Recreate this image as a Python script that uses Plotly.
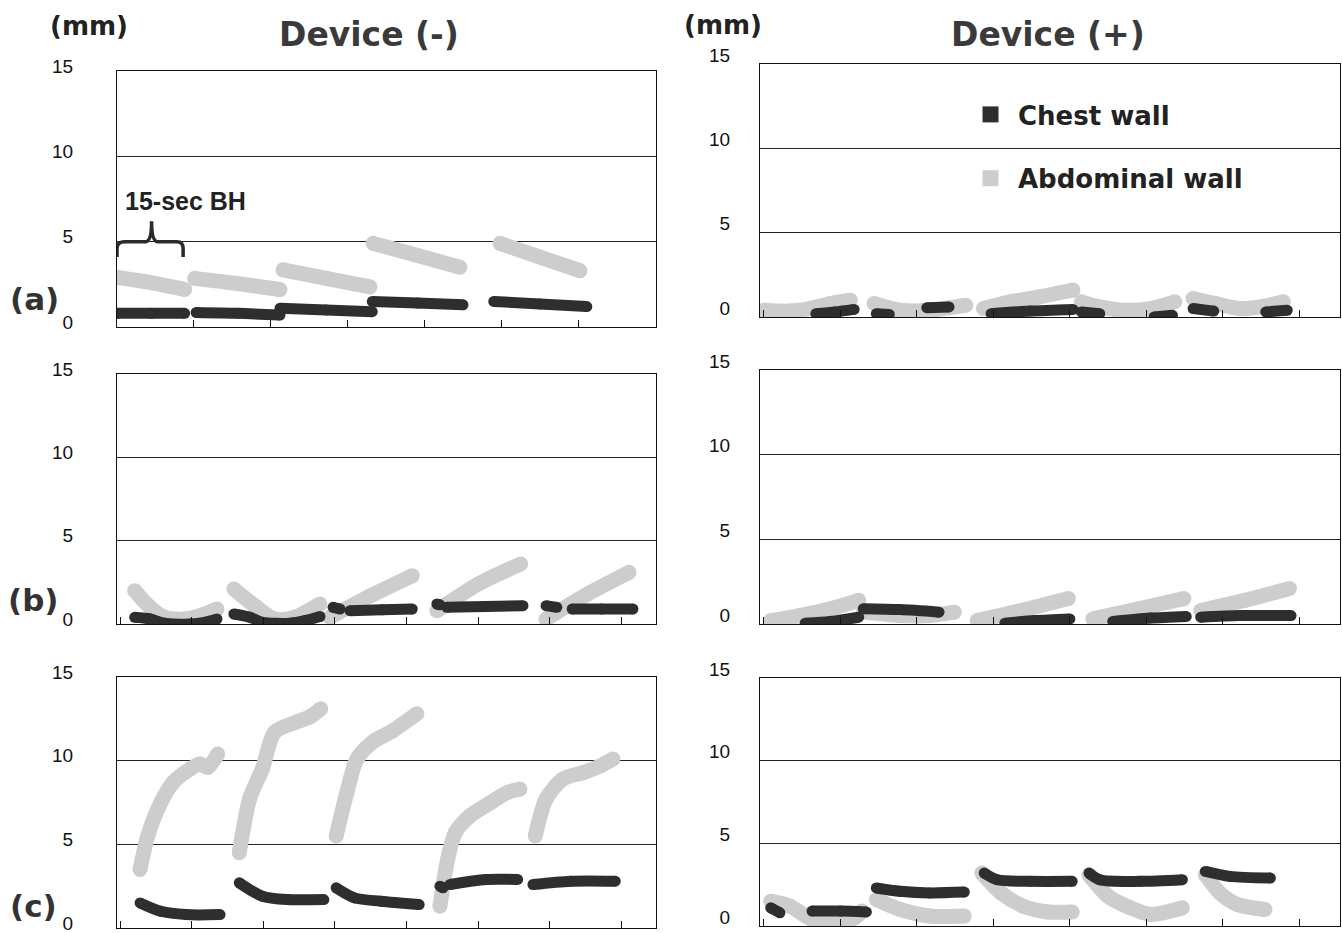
import plotly.graph_objects as go

# ---------------- data (mm), x in breath-hold time units ----------------
# Row (a) Device (-)
A_L_CHEST_X = [[0.0, 0.44, 0.88], [1.03, 1.57, 2.12], [2.12, 2.72, 3.32], [3.32, 3.91, 4.50], [4.90, 5.50, 6.11]]
A_L_CHEST_Y = [[0.8, 0.8, 0.8], [0.85, 0.8, 0.7], [1.1, 1.0, 0.9], [1.5, 1.4, 1.3], [1.5, 1.35, 1.2]]
A_L_ABD_X = [[0.0, 0.44, 0.88], [1.01, 1.56, 2.12], [2.16, 2.72, 3.29], [3.33, 3.90, 4.46], [4.98, 5.50, 6.02]]
A_L_ABD_Y = [[2.9, 2.6, 2.2], [2.85, 2.55, 2.2], [3.35, 2.85, 2.35], [4.9, 4.2, 3.5], [4.9, 4.1, 3.3]]

# Row (b) Device (-)
B_L_CHEST_X = [[0.23, 0.43, 0.62, 0.95, 1.14, 1.30], [1.52, 1.73, 1.89, 2.25, 2.44, 2.64], [2.81, 2.90],
               [3.03, 3.45, 3.84], [4.16, 4.20], [4.29, 4.80, 5.28], [5.58, 5.72], [5.92, 6.30, 6.71]]
B_L_CHEST_Y = [[0.4, 0.3, 0.05, 0.0, 0.1, 0.3], [0.6, 0.4, 0.1, 0.05, 0.2, 0.45], [1.0, 0.9],
               [0.8, 0.85, 0.9], [1.2, 1.15], [1.0, 1.05, 1.1], [1.1, 1.0], [0.9, 0.9, 0.9]]
B_L_ABD_X = [[0.23, 0.43, 0.62, 0.88, 1.08, 1.30], [1.52, 1.79, 2.05, 2.31, 2.64], [2.77, 3.30, 3.84],
             [4.16, 4.70, 5.25], [5.58, 6.12, 6.66]]
B_L_ABD_Y = [[2.0, 1.0, 0.4, 0.3, 0.5, 0.9], [2.1, 1.1, 0.3, 0.4, 1.2], [0.4, 1.7, 2.9],
             [0.8, 2.4, 3.6], [0.3, 1.8, 3.1]]

# Row (c) Device (-)
C_L_CHEST_X = [[0.30, 0.57, 0.90, 1.34], [1.59, 1.89, 2.22, 2.69], [2.85, 3.09, 3.43, 3.93], [4.20, 4.24],
               [4.33, 4.80, 5.21], [5.41, 5.90, 6.48]]
C_L_CHEST_Y = [[1.5, 1.0, 0.8, 0.8], [2.7, 1.9, 1.7, 1.7], [2.4, 1.8, 1.6, 1.4], [2.5, 2.4],
               [2.6, 2.9, 2.9], [2.6, 2.8, 2.8]]
C_L_ABD_X = [[0.30, 0.40, 0.57, 0.73, 0.95, 1.08, 1.18, 1.31], [1.59, 1.73, 1.89, 2.05, 2.33, 2.50, 2.65],
             [2.85, 2.99, 3.12, 3.32, 3.59, 3.90], [4.20, 4.30, 4.40, 4.59, 4.86, 5.08, 5.24],
             [5.44, 5.58, 5.80, 6.07, 6.29, 6.45]]
C_L_ABD_Y = [[3.5, 5.5, 7.5, 8.7, 9.5, 9.8, 9.6, 10.4], [4.5, 7.8, 9.5, 11.7, 12.3, 12.6, 13.1],
             [5.5, 8.1, 10.1, 11.1, 11.8, 12.8], [1.3, 4.1, 5.7, 6.7, 7.5, 8.1, 8.3],
             [5.5, 7.7, 8.9, 9.3, 9.7, 10.1]]

# Row (a) Device (+)
A_R_CHEST_X = [[0.73, 0.98, 1.23], [1.52, 1.69], [2.18, 2.47], [3.02, 3.53, 4.09], [4.20, 4.44],
               [5.15, 5.39], [5.66, 5.93], [6.61, 6.89]]
A_R_CHEST_Y = [[0.2, 0.3, 0.45], [0.2, 0.15], [0.55, 0.6], [0.2, 0.35, 0.45], [0.3, 0.2],
               [0.0, 0.1], [0.5, 0.35], [0.3, 0.4]]
A_R_ABD_X = [[0.05, 0.39, 0.65, 0.92, 1.18], [1.49, 1.83, 2.22, 2.69], [2.92, 3.27, 3.66, 4.09],
             [4.20, 4.44, 4.77, 5.10, 5.42], [5.66, 5.95, 6.27, 6.54, 6.84]]
A_R_ABD_Y = [[0.4, 0.35, 0.5, 0.8, 1.0], [0.8, 0.4, 0.4, 0.7], [0.5, 0.9, 1.2, 1.6],
             [0.9, 0.6, 0.4, 0.5, 0.9], [1.1, 0.8, 0.5, 0.6, 0.9]]

# Row (b) Device (+)
B_R_CHEST_X = [[0.59, 0.92, 1.29], [1.35, 1.83, 2.34], [3.20, 3.59, 4.05], [4.61, 5.10, 5.57], [5.76, 6.27, 6.94]]
B_R_CHEST_Y = [[0.05, 0.15, 0.4], [0.9, 0.85, 0.7], [0.05, 0.2, 0.3], [0.15, 0.35, 0.45], [0.4, 0.5, 0.5]]
B_R_ABD_X = [[0.14, 0.52, 0.92, 1.29], [1.35, 1.83, 2.22, 2.54], [2.84, 3.42, 4.03], [4.35, 4.95, 5.54],
             [5.76, 6.34, 6.92]]
B_R_ABD_Y = [[0.2, 0.5, 0.9, 1.4], [0.7, 0.5, 0.5, 0.7], [0.2, 0.8, 1.5], [0.3, 0.9, 1.5], [0.8, 1.4, 2.1]]

# Row (c) Device (+)
C_R_CHEST_X = [[0.14, 0.26], [0.68, 1.05, 1.39], [1.52, 1.83, 2.22, 2.67], [2.93, 3.10, 3.53, 4.08],
               [4.30, 4.44, 4.97, 5.52], [5.82, 6.14, 6.67]]
C_R_CHEST_Y = [[1.1, 0.8], [0.9, 0.9, 0.85], [2.3, 2.1, 2.0, 2.05], [3.2, 2.8, 2.7, 2.7],
               [3.2, 2.8, 2.7, 2.8], [3.3, 3.0, 2.9]]
C_R_ABD_X = [[0.14, 0.39, 0.68, 0.98, 1.24, 1.33], [1.52, 1.83, 2.22, 2.67], [2.90, 3.15, 3.44, 3.76, 4.08],
             [4.30, 4.55, 4.84, 5.11, 5.52], [5.82, 6.01, 6.24, 6.60]]
C_R_ABD_Y = [[1.5, 1.2, 0.4, 0.3, 0.5, 0.9], [1.6, 1.0, 0.6, 0.6], [3.2, 2.0, 1.2, 0.85, 0.85],
             [3.1, 1.8, 1.1, 0.7, 1.1], [3.1, 2.0, 1.3, 1.0]]

Y_TICKS = [0, 5, 10, 15]
Y_TICK_TEXT = ["0", "5", "10", "15"]
SERIES_NAMES = ["Chest wall", "Abdominal wall"]
ROW_LABELS = ["(a)", "(b)", "(c)"]
COL_TITLES = ["Device (-)", "Device (+)"]

# ---------------- layout helpers ----------------
W, H = 1342, 933
CHEST_COLOR = "#2e2e2e"
ABD_COLOR = "#cdcdcd"


def fx(px):
    return px / W


def fy(py):
    return 1 - py / H


def join(xs, ys):
    X, Y = [], []
    for sx, sy in zip(xs, ys):
        X += list(sx) + [None]
        Y += list(sy) + [None]
    return X, Y


# panel: (axis index, x-pixel box, y-pixel box, x max, tick0, dtick, data, left column?)
panels = [
    (1, (117, 656), (71, 327), 7.01, 0.0, 1.0, (A_L_CHEST_X, A_L_CHEST_Y, A_L_ABD_X, A_L_ABD_Y), True),
    (2, (760, 1340), (64, 317), 7.58, 0.05, 1.0, (A_R_CHEST_X, A_R_CHEST_Y, A_R_ABD_X, A_R_ABD_Y), False),
    (3, (117, 656), (374, 624), 7.01, 0.045, 0.93, (B_L_CHEST_X, B_L_CHEST_Y, B_L_ABD_X, B_L_ABD_Y), True),
    (4, (760, 1340), (370, 624), 7.58, 0.05, 1.0, (B_R_CHEST_X, B_R_CHEST_Y, B_R_ABD_X, B_R_ABD_Y), False),
    (5, (117, 656), (677, 928), 7.01, 0.045, 0.93, (C_L_CHEST_X, C_L_CHEST_Y, C_L_ABD_X, C_L_ABD_Y), True),
    (6, (760, 1340), (678, 926), 7.58, 0.05, 1.0, (C_R_CHEST_X, C_R_CHEST_Y, C_R_ABD_X, C_R_ABD_Y), False),
]

fig = go.Figure()
layout = {}
tick_font = dict(family="Liberation Sans, Arial, sans-serif", size=19, color="#111")

for p in panels:
    idx, xb, yb, xmax, t0, dt, data, left = p
    xa = "xaxis" if idx == 1 else f"xaxis{idx}"
    ya = "yaxis" if idx == 1 else f"yaxis{idx}"
    xr = "x" if idx == 1 else f"x{idx}"
    yr = "y" if idx == 1 else f"y{idx}"
    layout[xa] = dict(
        domain=[fx(xb[0]), fx(xb[1])], anchor=yr, range=[0, xmax], automargin=False,
        showgrid=False, zeroline=False, showline=True, mirror=True,
        linecolor="#111", linewidth=1, ticks="inside", ticklen=7, tickwidth=1,
        tickcolor="#111", tick0=t0, dtick=dt, showticklabels=False, fixedrange=True,
    )
    layout[ya] = dict(
        domain=[fy(yb[1]), fy(yb[0])], anchor=xr, range=[0, 15], automargin=False,
        tickvals=Y_TICKS, ticktext=Y_TICK_TEXT, ticks="", ticklabeloverflow="allow",
        showgrid=True, gridcolor="#222", gridwidth=1, zeroline=False,
        showline=True, mirror=True, linecolor="#111", linewidth=1,
        tickfont=tick_font, ticklabelstandoff=(39 if left else 25),
        ticklabelshift=(-5 if left else -9), fixedrange=True,
    )
    cx, cy, ax_, ay_ = data
    X, Y = join(ax_, ay_)
    fig.add_trace(go.Scatter(
        x=X, y=Y, mode="lines+markers", xaxis=xr, yaxis=yr, showlegend=False,
        name=SERIES_NAMES[1], connectgaps=False, cliponaxis=True,
        line=dict(color=ABD_COLOR, width=15, shape="spline", smoothing=0.8),
        marker=dict(color=ABD_COLOR, size=15), hoverinfo="skip"))
    X, Y = join(cx, cy)
    fig.add_trace(go.Scatter(
        x=X, y=Y, mode="lines+markers", xaxis=xr, yaxis=yr, showlegend=False,
        name=SERIES_NAMES[0], connectgaps=False, cliponaxis=True,
        line=dict(color=CHEST_COLOR, width=11, shape="spline", smoothing=0.8),
        marker=dict(color=CHEST_COLOR, size=11), hoverinfo="skip"))

# legend entries
for name, color, grp in [(SERIES_NAMES[0], CHEST_COLOR, "chest"), (SERIES_NAMES[1], ABD_COLOR, "abd")]:
    fig.add_trace(go.Scatter(
        x=[None], y=[None], mode="markers", xaxis="x2", yaxis="y2", name=name,
        legendgroup=grp, marker=dict(symbol="square", size=22, color=color)))

bold = dict(family="DejaVu Sans, Arial, sans-serif", color="#333", weight="bold")
annotations = [
    dict(text="(mm)", x=fx(89), y=fy(26), font=dict(bold, size=26, color="#222")),
    dict(text="(mm)", x=fx(723), y=fy(25), font=dict(bold, size=26, color="#222")),
    dict(text=COL_TITLES[0], x=fx(369), y=fy(35), font=dict(bold, size=33, color="#3a3a3a")),
    dict(text=COL_TITLES[1], x=fx(1048), y=fy(35), font=dict(bold, size=33, color="#3a3a3a")),
    dict(text=ROW_LABELS[0], x=fx(34), y=fy(299), font=dict(bold, size=31, color="#333")),
    dict(text=ROW_LABELS[1], x=fx(33), y=fy(600), font=dict(bold, size=31, color="#333")),
    dict(text=ROW_LABELS[2], x=fx(33), y=fy(906), font=dict(bold, size=31, color="#333")),
    dict(text="15-sec BH", x=fx(123), y=fy(201), xanchor="left",
         font=dict(family="Liberation Sans, Arial, sans-serif", size=25, color="#222", weight="bold")),
]
for a in annotations:
    a.setdefault("xanchor", "center")
    a.update(xref="paper", yref="paper", yanchor="middle", showarrow=False)

# curly bracket marking one 15-sec breath hold (row a, Device -)
bracket = ("M 0.0,4.1 L 0.0,4.6 Q 0.0,5.0 0.1,5.0 L 0.37,5.0 Q 0.45,5.0 0.45,6.2 "
           "Q 0.45,5.0 0.53,5.0 L 0.78,5.0 Q 0.86,5.0 0.86,4.6 L 0.86,4.1")
shapes = [dict(type="path", path=bracket, xref="x", yref="y",
               line=dict(color="#2a2a2a", width=3.5))]

fig.update_layout(
    width=W, height=H, margin=dict(l=0, r=0, t=0, b=0, autoexpand=False),
    paper_bgcolor="white", plot_bgcolor="white",
    annotations=annotations, shapes=shapes,
    legend=dict(x=fx(963), y=fy(91), xanchor="left", yanchor="top",
                bgcolor="rgba(0,0,0,0)", tracegroupgap=27, itemsizing="trace", itemwidth=45,
                font=dict(family="DejaVu Sans, Arial, sans-serif", size=26, color="#222", weight="bold")),
    **layout,
)

POST = (
    "var s=document.documentElement.style;s.margin='0';s.padding='0';s.overflow='hidden';"
    "var b=document.body.style;b.margin='0';b.padding='0';b.overflow='hidden';"
)
fig.write_html("out.html", post_script=POST, config={"displayModeBar": False})
